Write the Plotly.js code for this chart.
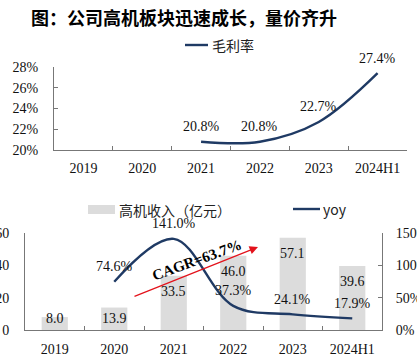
<!DOCTYPE html>
<html>
<head>
<meta charset="utf-8">
<script src="https://cdn.plot.ly/plotly-3.0.1.min.js"></script>
<style>html,body{margin:0;padding:0;background:#fff;}#chart{width:417px;height:356px;}</style>
</head>
<body>
<div id="chart"></div>
<script>
// ---- data ----
const years = ['2019', '2020', '2021', '2022', '2023', '2024H1'];
const grossMargin = [null, null, 20.8, 20.8, 22.7, 27.4];           // 毛利率 (%)
const revenue = [8.0, 13.9, 33.5, 46.0, 57.1, 39.6];                 // 高机收入（亿元）
const yoy = [null, 74.6, 141.0, 37.3, 24.1, 17.9];                    // yoy (%)
const cagrText = 'CAGR=63.7%';
const titleText = '图：公司高机板块迅速成长，量价齐升';

const W = 417, H = 356;
const px = v => v / W;
const py = v => 1 - v / H;

const NAVY = '#1F3A64';
const GRAY = '#DCDCDC';
const RED = '#E3121B';
const SERIF = 'Liberation Serif, Times New Roman, serif';
const CJK = 'Noto Sans CJK SC, sans-serif';
const tickFont = {family: SERIF, size: 14, color: '#111'};

const traces = [
  {
    type: 'scatter', mode: 'lines', x: years, y: grossMargin,
    xaxis: 'x', yaxis: 'y',
    line: {color: NAVY, width: 2.4, shape: 'spline', smoothing: 1},
    connectgaps: false, showlegend: false, hoverinfo: 'skip'
  },
  {
    type: 'bar', x: years, y: revenue, xaxis: 'x2', yaxis: 'y2',
    marker: {color: GRAY}, width: 0.44, showlegend: false, hoverinfo: 'skip'
  },
  {
    type: 'scatter', mode: 'lines', x: years, y: yoy,
    xaxis: 'x2', yaxis: 'y3',
    line: {color: NAVY, width: 2.4, shape: 'spline', smoothing: 1},
    showlegend: false, hoverinfo: 'skip'
  }
];

const annotations = [];
// title
annotations.push({
  xref: 'paper', yref: 'paper', x: px(184), y: py(17), xanchor: 'center', yanchor: 'middle',
  text: '<b>' + titleText + '</b>', showarrow: false,
  font: {family: CJK, size: 18, color: '#000'}
});
// gross margin labels (x given as category index)
years.forEach((c, i) => {
  if (grossMargin[i] === null) return;
  annotations.push({
    xref: 'x', yref: 'y', x: i, y: grossMargin[i], yshift: 15, yanchor: 'middle',
    text: grossMargin[i].toFixed(1) + '%', showarrow: false, font: tickFont
  });
});
// revenue labels
years.forEach((c, i) => {
  annotations.push({
    xref: 'x2', yref: 'y2', x: i, y: Math.max(revenue[i] - 9.9, 7.4), yanchor: 'middle',
    text: revenue[i].toFixed(1), showarrow: false, font: tickFont
  });
});
// yoy labels
years.forEach((c, i) => {
  if (yoy[i] === null) return;
  annotations.push({
    xref: 'x2', yref: 'y3', x: i, y: yoy[i], yshift: 15, yanchor: 'middle',
    text: yoy[i].toFixed(1) + '%', showarrow: false, font: tickFont
  });
});
// CAGR arrow
annotations.push({
  xref: 'x2', yref: 'y2', axref: 'x2', ayref: 'y2',
  x: 3.416, y: 51.3, ax: 1.315, ay: 20.4, text: '',
  showarrow: true, arrowhead: 2, arrowsize: 1.4, arrowwidth: 1.2, arrowcolor: RED, standoff: 0
});
annotations.push({
  xref: 'x2', yref: 'y2', x: 2.39, y: 43.3, text: '<b>' + cagrText + '</b>',
  textangle: -20, showarrow: false, font: {family: SERIF, size: 15, color: '#000'}
});
// legends (manual)
annotations.push({
  xref: 'paper', yref: 'paper', x: px(210), y: py(45), xanchor: 'left', yanchor: 'middle',
  text: '毛利率', showarrow: false, font: {family: CJK, size: 14, color: '#222'}
});
annotations.push({
  xref: 'paper', yref: 'paper', x: px(117), y: py(210), xanchor: 'left', yanchor: 'middle',
  text: '高机收入（亿元）', showarrow: false, font: {family: CJK, size: 14, color: '#222'}
});
annotations.push({
  xref: 'paper', yref: 'paper', x: px(321), y: py(209), xanchor: 'left', yanchor: 'middle',
  text: 'yoy', showarrow: false, font: {family: CJK, size: 14, color: '#222'}
});

const shapes = [
  {type: 'line', xref: 'paper', yref: 'paper', x0: px(185), x1: px(208), y0: py(45), y1: py(45),
   line: {color: NAVY, width: 2.4}},
  {type: 'rect', xref: 'paper', yref: 'paper', x0: px(88), x1: px(115), y0: py(205), y1: py(214),
   fillcolor: GRAY, line: {width: 0}},
  {type: 'line', xref: 'paper', yref: 'paper', x0: px(293), x1: px(320), y0: py(209), y1: py(209),
   line: {color: NAVY, width: 2.4}}
];

const axisCommon = {
  showgrid: false, zeroline: false, showline: true, linecolor: '#777', linewidth: 1,
  tickfont: tickFont, tickcolor: '#777', fixedrange: true
};

const layout = {
  width: W, height: H,
  margin: {l: 0, r: 0, t: 0, b: 0, autoexpand: false},
  paper_bgcolor: '#fff', plot_bgcolor: 'rgba(0,0,0,0)',
  showlegend: false,
  xaxis: Object.assign({}, axisCommon, {
    domain: [px(54), px(407)], type: 'category', range: [-0.5, 5.5],
    ticks: 'inside', ticklen: 4, tickson: 'boundaries', ticklabelstandoff: 5, anchor: 'y'
  }),
  yaxis: Object.assign({}, axisCommon, {
    domain: [py(150), py(67)], range: [20, 28], tickvals: [20, 22, 24, 26, 28],
    ticktext: ['20%', '22%', '24%', '26%', '28%'],
    ticks: 'inside', ticklen: 4, ticklabelstandoff: 12, anchor: 'x'
  }),
  xaxis2: Object.assign({}, axisCommon, {
    domain: [px(25), px(382)], type: 'category', range: [-0.5, 5.5],
    ticks: 'inside', ticklen: 4, tickson: 'boundaries', ticklabelstandoff: 6, anchor: 'y2'
  }),
  yaxis2: Object.assign({}, axisCommon, {
    domain: [py(330), py(233)], range: [0, 60], tickvals: [0, 20, 40, 60],
    ticks: '', ticklabelstandoff: 12, anchor: 'x2'
  }),
  yaxis3: Object.assign({}, axisCommon, {
    overlaying: 'y2', side: 'right', range: [0, 150], tickvals: [0, 50, 100, 150],
    ticktext: ['0%', '50%', '100%', '150%'],
    ticks: 'inside', ticklen: 4, ticklabelstandoff: 10, anchor: 'x2'
  }),
  annotations: annotations,
  shapes: shapes
};

Plotly.newPlot('chart', traces, layout, {staticPlot: true, displayModeBar: false});
</script>
</body>
</html>
